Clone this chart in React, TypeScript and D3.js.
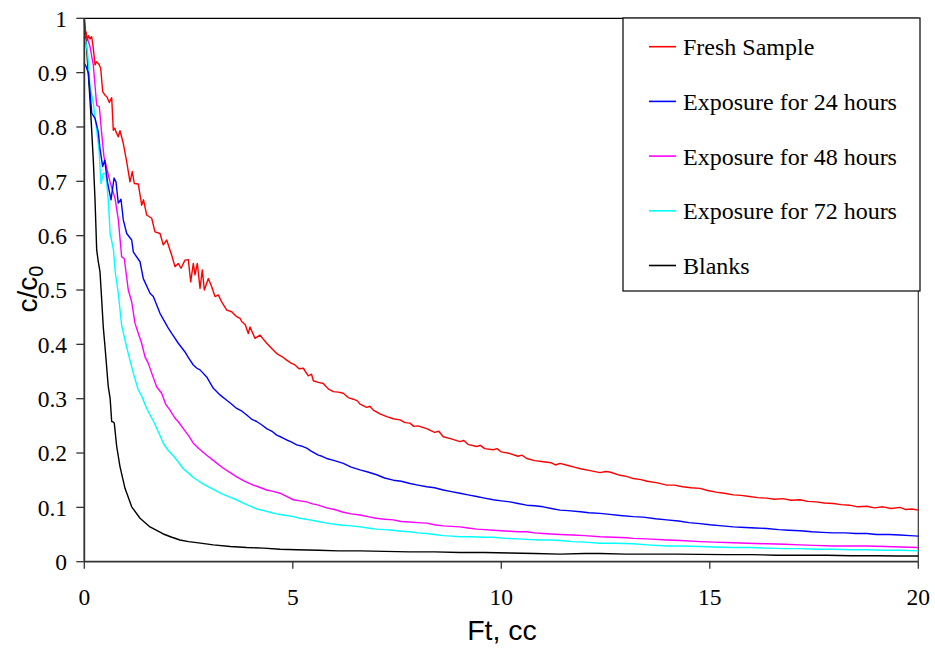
import React from "react";
import * as d3 from "d3";

// Breakthrough curves: relative concentration c/c0 against throughput Ft (cc)
const freshSample: [number, number][] = [
  [0,0.995],[0.01,0.982],[0.04,0.975],[0.072,0.96],[0.1,0.968],[0.137,0.962],[0.177,0.966],[0.216,0.945],[0.257,0.914],[0.28,0.918],[0.297,0.92],[0.353,0.915],[0.393,0.908],[0.441,0.865],[0.5,0.858],[0.537,0.856],[0.6,0.845],[0.657,0.854],[0.695,0.794],[0.73,0.798],[0.76,0.791],[0.815,0.782],[0.856,0.793],[0.935,0.77],[1.017,0.736],[1.096,0.699],[1.151,0.718],[1.199,0.696],[1.295,0.695],[1.376,0.656],[1.42,0.666],[1.496,0.638],[1.616,0.632],[1.695,0.607],[1.815,0.604],[1.894,0.583],[1.976,0.592],[2.096,0.564],[2.175,0.543],[2.254,0.549],[2.319,0.54],[2.415,0.555],[2.494,0.556],[2.552,0.515],[2.614,0.549],[2.655,0.528],[2.71,0.549],[2.775,0.503],[2.83,0.537],[2.878,0.5],[2.974,0.521],[3.055,0.506],[3.134,0.488],[3.213,0.491],[3.295,0.478],[3.415,0.463],[3.535,0.46],[3.655,0.451],[3.734,0.448],[3.775,0.442],[3.86,0.436],[3.933,0.42],[3.974,0.432],[4.094,0.411],[4.213,0.417],[4.374,0.402],[4.5,0.392],[4.614,0.383],[4.73,0.378],[4.854,0.371],[4.95,0.366],[5.053,0.362],[5.15,0.355],[5.252,0.356],[5.37,0.342],[5.45,0.345],[5.492,0.333],[5.61,0.33],[5.731,0.328],[5.85,0.318],[5.971,0.313],[6.09,0.312],[6.211,0.31],[6.33,0.302],[6.451,0.299],[6.55,0.296],[6.612,0.29],[6.77,0.284],[6.85,0.286],[6.93,0.279],[7.09,0.272],[7.252,0.267],[7.41,0.263],[7.571,0.261],[7.69,0.256],[7.811,0.255],[7.9,0.249],[8.0,0.25],[8.211,0.245],[8.4,0.238],[8.5,0.24],[8.609,0.23],[8.8,0.226],[9.009,0.221],[9.1,0.223],[9.2,0.216],[9.41,0.212],[9.5,0.214],[9.6,0.208],[9.808,0.206],[9.9,0.208],[10.0,0.202],[10.209,0.199],[10.4,0.194],[10.5,0.196],[10.609,0.19],[10.8,0.186],[11.007,0.184],[11.2,0.182],[11.3,0.178],[11.408,0.181],[11.6,0.177],[11.75,0.174],[11.9,0.171],[12.1,0.168],[12.367,0.164],[12.5,0.166],[12.6,0.165],[12.85,0.159],[13.0,0.157],[13.165,0.153],[13.35,0.151],[13.5,0.148],[13.75,0.145],[13.966,0.141],[14.15,0.141],[14.35,0.138],[14.55,0.136],[14.765,0.135],[14.95,0.131],[15.15,0.128],[15.35,0.126],[15.564,0.123],[15.75,0.122],[15.95,0.12],[16.15,0.118],[16.365,0.117],[16.55,0.115],[16.75,0.116],[16.95,0.113],[17.163,0.114],[17.35,0.111],[17.55,0.11],[17.75,0.108],[17.962,0.107],[18.15,0.105],[18.35,0.104],[18.55,0.101],[18.763,0.102],[18.95,0.099],[19.15,0.101],[19.35,0.098],[19.561,0.1],[19.7,0.096],[19.85,0.097],[20,0.095],
];

const exposure24: [number, number][] = [
  [0,0.917],[0.04,0.912],[0.1,0.899],[0.18,0.825],[0.257,0.816],[0.335,0.791],[0.375,0.761],[0.44,0.727],[0.49,0.739],[0.555,0.699],[0.64,0.666],[0.713,0.706],[0.76,0.699],[0.815,0.66],[0.88,0.667],[0.935,0.629],[1.017,0.604],[1.137,0.592],[1.175,0.57],[1.336,0.552],[1.415,0.521],[1.576,0.494],[1.655,0.488],[1.815,0.457],[2.014,0.43],[2.096,0.42],[2.254,0.402],[2.415,0.386],[2.5,0.375],[2.614,0.362],[2.7,0.356],[2.775,0.353],[2.935,0.34],[3.094,0.319],[3.254,0.307],[3.415,0.297],[3.5,0.292],[3.655,0.282],[3.78,0.277],[3.895,0.27],[4.0,0.263],[4.134,0.258],[4.25,0.252],[4.374,0.245],[4.5,0.24],[4.614,0.233],[4.73,0.229],[4.854,0.224],[4.95,0.221],[5.094,0.215],[5.2,0.213],[5.333,0.209],[5.45,0.203],[5.612,0.196],[5.7,0.194],[5.813,0.19],[6.0,0.186],[6.211,0.181],[6.4,0.174],[6.612,0.169],[6.8,0.165],[7.012,0.16],[7.2,0.154],[7.41,0.15],[7.6,0.148],[7.811,0.144],[8.0,0.141],[8.211,0.138],[8.4,0.136],[8.609,0.132],[8.8,0.129],[9.009,0.126],[9.2,0.123],[9.41,0.12],[9.6,0.117],[9.808,0.114],[10.0,0.112],[10.209,0.11],[10.4,0.107],[10.609,0.104],[10.8,0.103],[11.007,0.101],[11.2,0.098],[11.408,0.095],[11.6,0.094],[11.9,0.092],[12.1,0.09],[12.367,0.089],[12.6,0.087],[12.85,0.085],[13.165,0.083],[13.4,0.082],[13.7,0.079],[13.966,0.077],[14.25,0.075],[14.5,0.072],[14.765,0.07],[15.0,0.068],[15.3,0.066],[15.564,0.064],[15.85,0.063],[16.1,0.062],[16.365,0.061],[16.65,0.059],[16.9,0.058],[17.163,0.057],[17.45,0.055],[17.7,0.054],[17.962,0.053],[18.25,0.053],[18.5,0.052],[18.763,0.052],[19.0,0.05],[19.3,0.05],[19.561,0.049],[19.8,0.048],[20,0.047],
];

const exposure48: [number, number][] = [
  [0,0.972],[0.072,0.963],[0.137,0.948],[0.216,0.914],[0.297,0.84],[0.36,0.837],[0.417,0.788],[0.472,0.745],[0.52,0.73],[0.616,0.699],[0.736,0.669],[0.815,0.63],[0.896,0.561],[0.958,0.558],[1.055,0.5],[1.137,0.478],[1.215,0.439],[1.295,0.42],[1.376,0.402],[1.456,0.377],[1.535,0.365],[1.616,0.347],[1.735,0.322],[1.855,0.31],[1.95,0.29],[2.055,0.279],[2.175,0.264],[2.25,0.258],[2.374,0.245],[2.5,0.232],[2.614,0.218],[2.75,0.208],[2.935,0.196],[3.1,0.186],[3.333,0.172],[3.5,0.164],[3.655,0.156],[3.85,0.148],[4.053,0.141],[4.2,0.137],[4.374,0.132],[4.55,0.129],[4.693,0.126],[4.85,0.12],[5.012,0.114],[5.17,0.112],[5.333,0.11],[5.45,0.107],[5.612,0.104],[5.813,0.099],[6.0,0.096],[6.211,0.091],[6.4,0.088],[6.612,0.086],[6.8,0.083],[7.0,0.08],[7.2,0.078],[7.41,0.077],[7.6,0.074],[7.8,0.073],[8.0,0.072],[8.211,0.071],[8.4,0.068],[8.6,0.066],[8.8,0.065],[9.009,0.064],[9.2,0.062],[9.41,0.06],[9.6,0.059],[9.808,0.058],[10.0,0.057],[10.209,0.056],[10.4,0.055],[10.609,0.055],[10.8,0.053],[11.007,0.052],[11.2,0.051],[11.408,0.05],[11.7,0.049],[12.0,0.048],[12.367,0.046],[12.7,0.045],[13.0,0.044],[13.165,0.043],[13.5,0.042],[13.966,0.04],[14.3,0.039],[14.765,0.037],[15.1,0.036],[15.564,0.035],[15.9,0.034],[16.365,0.033],[16.8,0.032],[17.163,0.031],[17.5,0.03],[17.962,0.029],[18.4,0.029],[18.763,0.029],[19.2,0.028],[19.6,0.027],[20,0.026],
];

const exposure72: [number, number][] = [
  [0,0.966],[0.04,0.955],[0.08,0.935],[0.137,0.874],[0.216,0.844],[0.297,0.794],[0.353,0.758],[0.4,0.696],[0.457,0.715],[0.52,0.713],[0.576,0.664],[0.62,0.604],[0.7,0.574],[0.74,0.534],[0.815,0.494],[0.896,0.435],[0.975,0.408],[1.055,0.383],[1.175,0.347],[1.295,0.316],[1.376,0.305],[1.496,0.282],[1.655,0.259],[1.8,0.235],[1.894,0.218],[2.0,0.206],[2.134,0.195],[2.25,0.184],[2.374,0.171],[2.5,0.163],[2.614,0.155],[2.75,0.148],[2.9,0.141],[3.094,0.133],[3.3,0.125],[3.494,0.119],[3.65,0.114],[3.813,0.108],[3.95,0.103],[4.134,0.097],[4.3,0.094],[4.453,0.091],[4.6,0.088],[4.773,0.086],[5.012,0.083],[5.172,0.08],[5.4,0.077],[5.612,0.074],[5.813,0.071],[6.0,0.069],[6.2,0.067],[6.4,0.066],[6.612,0.064],[6.8,0.062],[7.0,0.06],[7.2,0.059],[7.41,0.058],[7.6,0.056],[7.8,0.055],[8.0,0.053],[8.211,0.052],[8.4,0.05],[8.609,0.048],[8.8,0.047],[9.009,0.046],[9.3,0.046],[9.6,0.045],[9.808,0.045],[10.1,0.043],[10.4,0.042],[10.609,0.041],[10.9,0.04],[11.2,0.04],[11.408,0.039],[11.7,0.037],[12.0,0.036],[12.367,0.034],[12.7,0.034],[13.165,0.033],[13.5,0.031],[13.966,0.029],[14.3,0.029],[14.765,0.028],[15.1,0.027],[15.564,0.026],[16.0,0.026],[16.365,0.025],[16.8,0.024],[17.163,0.024],[17.6,0.023],[17.962,0.023],[18.4,0.022],[18.763,0.022],[19.2,0.021],[19.6,0.021],[20,0.02],
];

const blanks: [number, number][] = [
  [0,1.0],[0.03,0.97],[0.058,0.942],[0.137,0.85],[0.216,0.739],[0.257,0.666],[0.297,0.574],[0.335,0.552],[0.376,0.534],[0.417,0.482],[0.455,0.432],[0.496,0.396],[0.575,0.322],[0.62,0.3],[0.657,0.258],[0.7,0.257],[0.719,0.255],[0.777,0.212],[0.856,0.175],[0.976,0.135],[1.137,0.101],[1.336,0.08],[1.576,0.064],[1.894,0.051],[2.1,0.045],[2.295,0.04],[2.5,0.037],[2.695,0.035],[3.094,0.031],[3.5,0.028],[3.894,0.026],[4.3,0.025],[4.693,0.023],[5.1,0.022],[5.612,0.021],[6.1,0.02],[6.612,0.02],[7.2,0.019],[7.8,0.018],[8.4,0.018],[9.009,0.017],[9.6,0.017],[10.2,0.016],[10.8,0.015],[11.408,0.014],[12.0,0.015],[12.367,0.015],[13.0,0.014],[13.6,0.014],[14.2,0.014],[14.765,0.0135],[15.4,0.013],[16.0,0.013],[16.6,0.012],[17.163,0.012],[17.8,0.012],[18.4,0.011],[19.0,0.011],[19.5,0.0105],[20,0.0105],
];

const seriesNames = [
  "Fresh Sample",
  "Exposure for 24 hours",
  "Exposure for 48 hours",
  "Exposure for 72 hours",
  "Blanks",
];
const seriesColors = ["#ff0000", "#0000ff", "#ff00ff", "#00ffff", "#000000"];
const seriesData = [freshSample, exposure24, exposure48, exposure72, blanks];

const xTicks = [0, 5, 10, 15, 20];
const yTicks = [0, 0.1, 0.2, 0.3, 0.4, 0.5, 0.6, 0.7, 0.8, 0.9, 1];

const W = 935;
const H = 648;
const plot = { left: 84.3, right: 918.3, top: 18.3, bottom: 561.7 };
const legendBox = { x: 623, y: 18, w: 297, h: 273 };

const serifStyle = { fontFamily: "Liberation Serif" };
const sansStyle = { fontFamily: "Liberation Sans" };

export default function App() {
  const x = d3.scaleLinear().domain([0, 20]).range([plot.left, plot.right]);
  const y = d3.scaleLinear().domain([0, 1]).range([plot.bottom, plot.top]);
  const line = d3
    .line<[number, number]>()
    .x((d) => x(d[0]))
    .y((d) => y(d[1]));

  return (
    <div style={{ position: "absolute", left: 0, top: 0 }}>
      <svg width={W} height={H} style={{ display: "block", background: "#fff" }}>
        {/* plot frame: top and right edges */}
        <line x1={plot.left} x2={plot.right} y1={plot.top} y2={plot.top} stroke="#000" strokeWidth={1.2} />
        <line x1={plot.right} x2={plot.right} y1={plot.top} y2={plot.bottom} stroke="#333" strokeWidth={1.2} />

        {/* series, drawn so the fresh sample ends on top */}
        <g fill="none" strokeWidth={1.4} strokeLinejoin="round">
          {seriesData
            .slice()
            .reverse()
            .map((data, i) => {
              const k = seriesData.length - 1 - i;
              return <path key={k} d={line(data) || ""} stroke={seriesColors[k]} />;
            })}
        </g>

        {/* y axis */}
        <line x1={plot.left} x2={plot.left} y1={plot.top} y2={plot.bottom} stroke="#333" strokeWidth={1.8} />
        {yTicks.map((t) => (
          <g key={t}>
            <line x1={plot.left - 8} x2={plot.left} y1={y(t)} y2={y(t)} stroke="#333" strokeWidth={1.3} />
            <text x={67} y={y(t)} dy="0.35em" textAnchor="end" style={serifStyle} fontSize={23.5} fill="#000">
              {d3.format("~g")(t)}
            </text>
          </g>
        ))}

        {/* x axis */}
        <line x1={plot.left} x2={plot.right} y1={plot.bottom} y2={plot.bottom} stroke="#333" strokeWidth={1.8} />
        {xTicks.map((t) => (
          <g key={t}>
            <line x1={x(t)} x2={x(t)} y1={plot.bottom} y2={plot.bottom + 7} stroke="#333" strokeWidth={1.3} />
            <text x={x(t)} y={605} textAnchor="middle" style={serifStyle} fontSize={23.5} fill="#000">
              {t}
            </text>
          </g>
        ))}

        {/* axis titles */}
        <text x={502} y={640} textAnchor="middle" style={sansStyle} fontSize={28.5} fill="#000">
          Ft, cc
        </text>
        <text transform="translate(37,289) rotate(-90)" textAnchor="middle" style={sansStyle} fontSize={28} fill="#000">
          c/c<tspan fontSize={20} dy={6}>0</tspan>
        </text>

        {/* legend */}
        <rect
          x={legendBox.x}
          y={legendBox.y}
          width={legendBox.w}
          height={legendBox.h}
          fill="#fff"
          stroke="#000"
          strokeWidth={1.2}
        />
        {seriesNames.map((name, i) => {
          const ry = 46.7 + i * 54.7;
          return (
            <g key={name}>
              <line x1={649} x2={676} y1={ry} y2={ry} stroke={seriesColors[i]} strokeWidth={1.6} />
              <text x={683} y={ry} dy="0.35em" style={serifStyle} fontSize={24} fill="#000">
                {name}
              </text>
            </g>
          );
        })}
      </svg>
    </div>
  );
}
